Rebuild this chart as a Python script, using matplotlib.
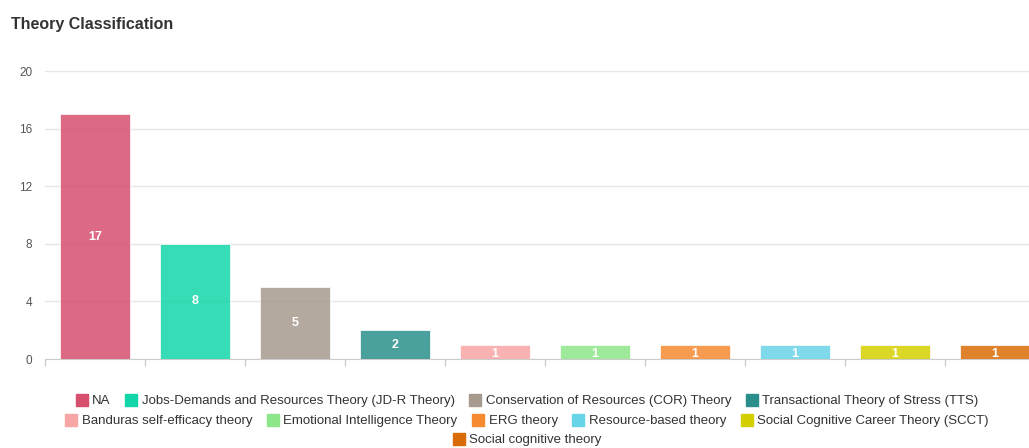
import matplotlib.pyplot as plt
from matplotlib.lines import Line2D
import numpy as np

# data
theories = ['NA', 'Jobs-Demands and Resources Theory (JD-R Theory)',
            'Conservation of Resources (COR) Theory', 'Transactional Theory of Stress (TTS)',
            'Banduras self-efficacy theory', 'Emotional Intelligence Theory', 'ERG theory',
            'Resource-based theory', 'Social Cognitive Career Theory (SCCT)',
            'Social cognitive theory']
counts = [17, 8, 5, 2, 1, 1, 1, 1, 1, 1]
colors = ['#d6506e', '#13d6a8', '#a69a8e', '#2a8f8c', '#f8a5a5',
          '#8ee68a', '#f58a30', '#68d4e8', '#d4d000', '#d96c06']
yticks = [0, 4, 8, 12, 16, 20]

plt.rcParams['font.family'] = ['Liberation Sans', 'DejaVu Sans']

fig = plt.figure(figsize=(10.29, 4.48), dpi=100, facecolor='white')
ax = fig.add_axes([45/1029, 1-359/448, 1000/1029, 288/448])

x = np.arange(len(counts))
ax.bar(x, counts, width=0.7, color=colors, alpha=0.85, edgecolor='white', linewidth=0.6, zorder=3)
for xi, c in zip(x, counts):
    yy = c/2 if c > 1 else 0.35
    ax.text(xi, yy, str(c), ha='center', va='center', color='white',
            fontsize=9, fontweight='bold', zorder=4)

ax.set_xlim(-0.5, len(counts)-0.5)
ax.set_ylim(0, 20)
ax.set_yticks(yticks)
ax.tick_params(axis='y', length=0, labelsize=8.5, labelcolor='#555555', pad=9)
ax.grid(axis='y', color='#e6e6e6', linewidth=1, zorder=0)
ax.set_xticks(np.arange(-0.5, len(counts), 1))
ax.set_xticklabels([])
ax.tick_params(axis='x', length=5, color='#cccccc', width=1)
for s in ['top', 'right', 'left']:
    ax.spines[s].set_visible(False)
ax.spines['bottom'].set_color('#cccccc')

fig.text(11/1029, 1-24/448, 'Theory Classification', fontsize=11.5, fontweight='bold',
         color='#333333', va='center', ha='left')

handles = [Line2D([], [], marker='s', linestyle='none', markersize=9,
                  markerfacecolor=c, markeredgecolor=c) for c in colors]
rows = [(0, 4, 1-401/448), (4, 9, 1-421/448), (9, 10, 1-440/448)]
for a, b, yy in rows:
    fig.legend(handles[a:b], theories[a:b], ncol=b-a, loc='center',
               bbox_to_anchor=(527/1029, yy), frameon=False, fontsize=9.5,
               handlelength=0.9, handletextpad=0.35, columnspacing=1.1,
               labelcolor='#333333', borderaxespad=0, borderpad=0)

fig.savefig('out.png', dpi=100)
